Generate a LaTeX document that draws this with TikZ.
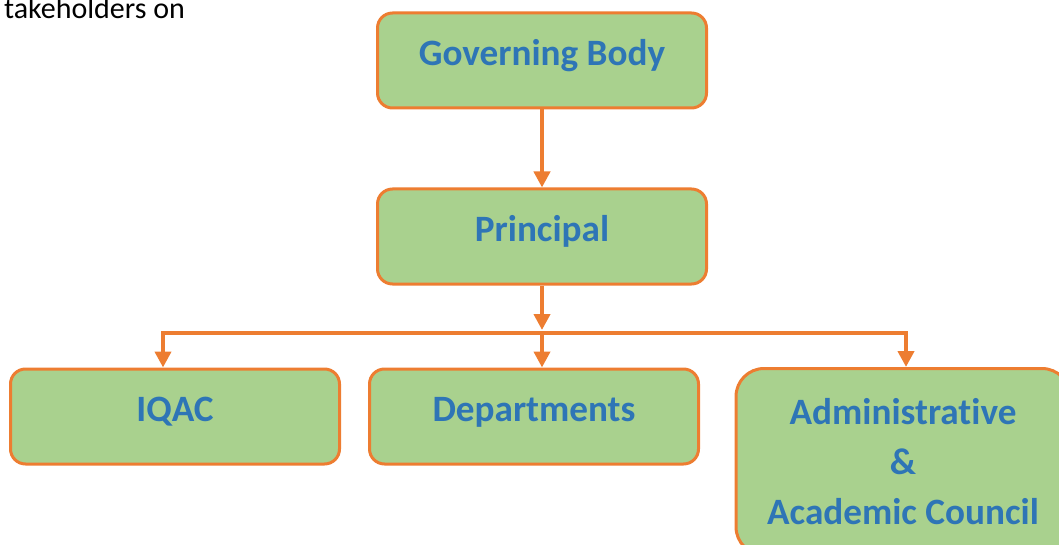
\documentclass[tikz,border=0pt]{standalone}
\usepackage{fontspec}
\setmainfont{Carlito}[Ligatures=CommonOff]
\usetikzlibrary{arrows.meta,positioning}
\definecolor{boxgreen}{HTML}{A9D18E}
\definecolor{lineorange}{HTML}{ED7D31}
\definecolor{textblue}{HTML}{2E75B6}

\tikzset{
	unit/.style={draw=lineorange, line width=1.5pt, fill=boxgreen, rounded corners=7.5pt,
		minimum width=164.5pt, minimum height=47.5pt, inner sep=0pt,
		text=textblue, font=\bfseries\fontsize{18.6}{25}\selectfont,
		text height=14.5pt, text depth=9.5pt},
	link/.style={draw=lineorange, line width=2pt, -{Triangle[width=8pt,length=8pt]}},
}

\begin{document}
\begin{tikzpicture}[x=0.5pt, y=-0.5pt]
			%%%%% START %%%%%
			\useasboundingbox (0,0) rectangle (1059,545);
			\clip (0,0) rectangle (1059,545);
			
			\node[anchor=base west, font=\fontsize{15}{18}\selectfont] (note) at (-3,19) {takeholders on};
			
			\node[unit] (gov) at (542,60.5) {Governing Body};
			\node[unit] (prin) at (542,236.5) {Principal};
			
			\node[unit] (iqac) at (175,416.5) {IQAC};
			\node[unit] (dept) at (534,416.5) {Departments};
			\node[unit, anchor=north, align=center, rounded corners=14pt, minimum width=167pt,
				minimum height=0pt, inner ysep=15pt, text height=, text depth=] (admin) at (903,367)
				{Administrative\\ \&\\ Academic Council};
			
			\coordinate (bus) at (prin.south |- 0,333);
			
			\draw[link] (gov) -- (prin);
			\draw[link, shorten >=1.5pt] (prin) -- (bus);
			\draw[link] (bus) -| ([xshift=-6pt]iqac.north);
			\draw[link] (bus) -- (bus |- dept.north);
			\draw[link] (bus) -| ([xshift=1.5pt]admin.north);
			
			%%%%% END %%%%%
\end{tikzpicture}
\end{document}
